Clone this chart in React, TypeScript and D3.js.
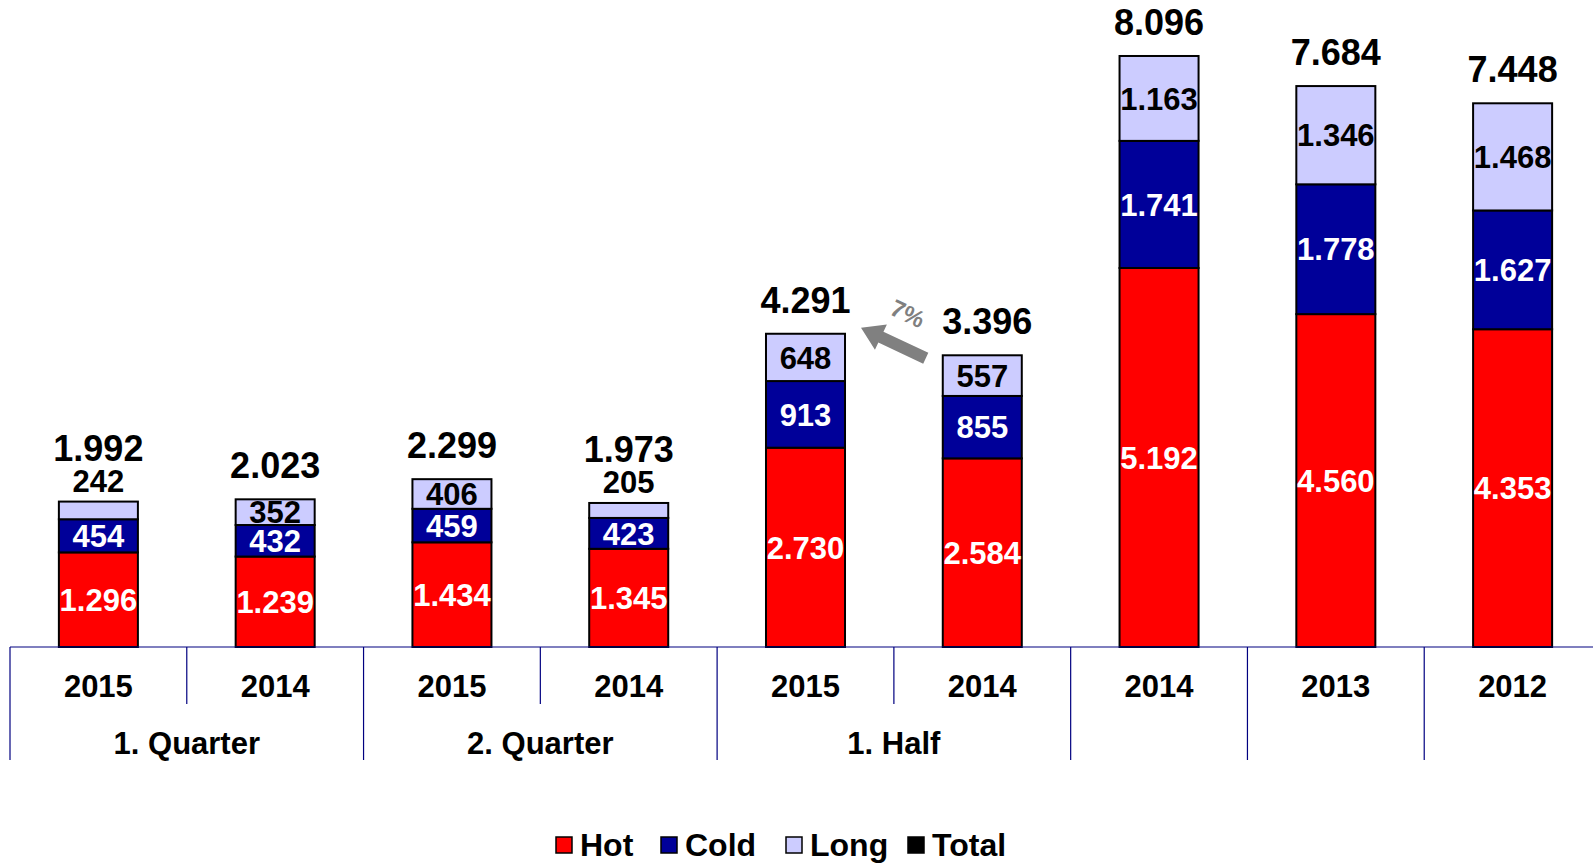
import React from "react";
import * as d3 from "d3";

const categories = ["2015", "2014", "2015", "2014", "2015", "2014", "2014", "2013", "2012"];
const groupLabels = ["1. Quarter", "1. Quarter", "2. Quarter", "2. Quarter", "1. Half", "1. Half", "", "", ""];
const hot = [1296, 1239, 1434, 1345, 2730, 2584, 5192, 4560, 4353];
const cold = [454, 432, 459, 423, 913, 855, 1741, 1778, 1627];
const long = [242, 352, 406, 205, 648, 557, 1163, 1346, 1468];
const totals = [1992, 2023, 2299, 1973, 4291, 3396, 8096, 7684, 7448];
const seriesNames = ["Hot", "Cold", "Long", "Total"];
const seriesColors = ["#FF0000", "#000099", "#CCCCFF", "#000000"];
const changeLabel = "7%";

const W = 1593;
const H = 864;
const FONT = "'Liberation Sans', Arial, Helvetica, sans-serif";

const locale = d3.formatLocale({ decimal: ",", thousands: ".", grouping: [3], currency: ["", ""] });
const fmt = locale.format(",d");

export default function App() {
  const keys = categories.map((c, i) => `${i}-${c}`);
  const x = d3.scaleBand<string>().domain(keys).range([10, 1601]).paddingInner(0.553).paddingOuter(0.2765);
  const y = d3.scaleLinear().domain([0, 8863]).range([647, 0]);
  const bw = x.bandwidth();
  const step = x.step();
  const rows = categories.map((c, i) => ({ key: keys[i], hot: hot[i], cold: cold[i], long: long[i] }));
  const stack = d3.stack<any>().keys(["hot", "cold", "long"])(rows);
  const labelColors = ["#FFFFFF", "#FFFFFF", "#000000"];

  const bounds: { x: number; long: boolean }[] = [];
  for (let i = 0; i < categories.length; i++) {
    const left = (x(keys[i]) as number) - (step - bw) / 2;
    const sameGroup = i > 0 && groupLabels[i] !== "" && groupLabels[i] === groupLabels[i - 1];
    bounds.push({ x: left, long: !sameGroup });
  }
  const groups: { label: string; start: number; end: number }[] = [];
  groupLabels.forEach((g, i) => {
    if (!g) return;
    const last = groups[groups.length - 1];
    if (last && last.label === g) last.end = i;
    else groups.push({ label: g, start: i, end: i });
  });

  // arrow between the two 1. Half bars
  const ax0 = (x(keys[5]) as number) - 17;
  const ay0 = y(hot[5] + cold[5] + long[5]) + 3;
  const ax1 = (x(keys[4]) as number) + bw + 16;
  const ay1 = y(long[4] + cold[4] + hot[4]) - 6;
  const ang = Math.atan2(ay1 - ay0, ax1 - ax0);
  const deg = (ang * 180) / Math.PI;
  const len = Math.hypot(ax1 - ax0, ay1 - ay0);
  const headL = 22, headW = 14, shaftW = 6;
  const arrowPath = `M0,${-shaftW} L${len - headL},${-shaftW} L${len - headL},${-headW} L${len},0 L${len - headL},${headW} L${len - headL},${shaftW} L0,${shaftW} Z`;

  const legendX = [556, 661, 786, 908];

  return (
    <svg width={W} height={H} style={{ position: "absolute", left: 0, top: 0, background: "#fff" }} fontFamily={FONT} fontWeight="bold">
      {stack.map((s, si) =>
        s.map((d, i) => (
          <rect key={`${si}-${i}`} x={x(keys[i])} y={y(d[1])} width={bw} height={y(d[0]) - y(d[1])}
            fill={seriesColors[si]} stroke="#000" strokeWidth={2} />
        ))
      )}
      {stack.map((s, si) =>
        s.map((d, i) => {
          const cx = (x(keys[i]) as number) + bw / 2;
          const segH = y(d[0]) - y(d[1]);
          const outside = si === 2 && segH < 20;
          const cy = outside ? y(d[1]) - 21 : (y(d[0]) + y(d[1])) / 2;
          return (
            <text key={`l${si}-${i}`} x={cx} y={cy} dy="0.36em" textAnchor="middle" fontSize={31}
              fill={outside ? "#000" : labelColors[si]}>
              {fmt(d.data[["hot", "cold", "long"][si]])}
            </text>
          );
        })
      )}
      {totals.map((t, i) => {
        const top = y(hot[i] + cold[i] + long[i]);
        const outside = y(hot[i] + cold[i]) - top < 20;
        const cx = (x(keys[i]) as number) + bw / 2 + (i === 5 ? 5 : 0);
        return (
          <text key={`t${i}`} x={cx} y={top - (outside ? 54 : 34)} dy="0.36em" textAnchor="middle" fontSize={36} fill="#000">
            {fmt(t)}
          </text>
        );
      })}
      <g transform={`translate(${ax0},${ay0}) rotate(${deg})`}>
        <path d={arrowPath} fill="#808080" />
      </g>
      <text transform={`translate(${ax0 - 18},${ay0 - 45}) rotate(${deg + 180})`}
        textAnchor="middle" dy="0.36em" fontSize={24} fill="#808080">{changeLabel}</text>
      <line x1={10} x2={W} y1={y(0)} y2={y(0)} stroke="#000080" strokeWidth={1.2} />
      {bounds.map((b, i) => (
        <line key={`b${i}`} x1={b.x} x2={b.x} y1={y(0)} y2={b.long ? 760 : 704} stroke="#000080" strokeWidth={1.2} />
      ))}
      {categories.map((c, i) => (
        <text key={`c${i}`} x={(x(keys[i]) as number) + bw / 2} y={697} textAnchor="middle" fontSize={31} fill="#000">{c}</text>
      ))}
      {groups.map((g, i) => {
        const x0 = (x(keys[g.start]) as number) - (step - bw) / 2;
        const x1 = (x(keys[g.end]) as number) + bw + (step - bw) / 2;
        return (
          <text key={`g${i}`} x={(x0 + x1) / 2} y={754} textAnchor="middle" fontSize={31} fill="#000">{g.label}</text>
        );
      })}
      {seriesNames.map((n, i) => (
        <g key={`lg${i}`}>
          <rect x={legendX[i]} y={837} width={16} height={16} fill={seriesColors[i]} stroke="#000" strokeWidth={1.5} />
          <text x={legendX[i] + 24} y={856} fontSize={32} fill="#000">{n}</text>
        </g>
      ))}
    </svg>
  );
}
